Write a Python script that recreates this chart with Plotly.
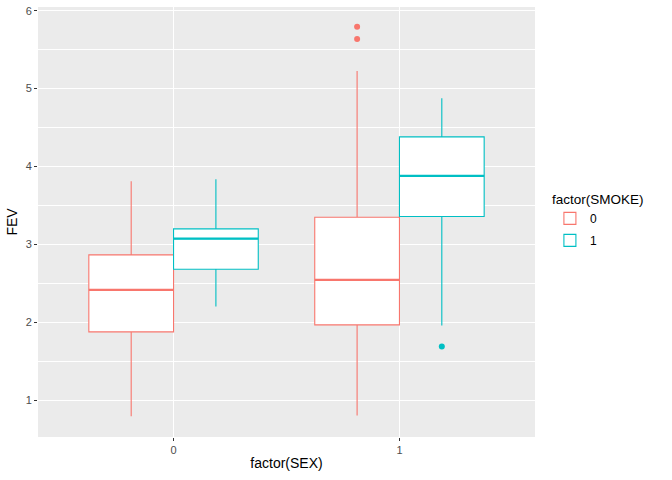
import plotly.graph_objects as go

# ---- data ----
sex_levels = ["0", "1"]
smoke_levels = ["0", "1"]

smoke0_lower = [0.79, 0.80]
smoke0_q1 = [1.875, 1.965]
smoke0_median = [2.415, 2.543]
smoke0_q3 = [2.864, 3.348]
smoke0_upper = [3.81, 5.226]
smoke0_out_sex = ["1", "1"]
smoke0_out_val = [5.795, 5.637]

smoke1_lower = [2.20, 1.956]
smoke1_q1 = [2.68, 3.356]
smoke1_median = [3.073, 3.878]
smoke1_q3 = [3.198, 4.379]
smoke1_upper = [3.835, 4.875]
smoke1_out_sex = ["1"]
smoke1_out_val = [1.687]

colors = ["#F8766D", "#00BFC4"]
dodge = 0.75
half = dodge / 2
offsets = [-half / 2, half / 2]

groups = [
    dict(lower=smoke0_lower, q1=smoke0_q1, med=smoke0_median, q3=smoke0_q3,
         upper=smoke0_upper, osex=smoke0_out_sex, oval=smoke0_out_val),
    dict(lower=smoke1_lower, q1=smoke1_q1, med=smoke1_median, q3=smoke1_q3,
         upper=smoke1_upper, osex=smoke1_out_sex, oval=smoke1_out_val),
]

sex_pos = {s: i for i, s in enumerate(sex_levels)}

fig = go.Figure()
for gi, (lvl, g) in enumerate(zip(smoke_levels, groups)):
    xs = [sex_pos[s] + offsets[gi] for s in sex_levels]
    fig.add_trace(go.Box(
        x=xs, q1=g["q1"], median=g["med"], q3=g["q3"],
        lowerfence=g["lower"], upperfence=g["upper"],
        width=half, whiskerwidth=0, boxpoints=False,
        fillcolor="white", line=dict(color=colors[gi], width=1.1),
        name=lvl, legendgroup=lvl, showlegend=True, hoverinfo="skip",
    ))
    # thicker median lines (ggplot fatten)
    mx, my = [], []
    for x, m in zip(xs, g["med"]):
        mx += [x - half / 2, x + half / 2, None]
        my += [m, m, None]
    fig.add_trace(go.Scatter(
        x=mx, y=my, mode="lines", line=dict(color=colors[gi], width=2.3),
        showlegend=False, legendgroup=lvl, hoverinfo="skip",
    ))
    # outliers
    fig.add_trace(go.Scatter(
        x=[sex_pos[s] + offsets[gi] for s in g["osex"]], y=g["oval"],
        mode="markers", marker=dict(color=colors[gi], size=6),
        showlegend=False, legendgroup=lvl, hoverinfo="skip",
    ))

fig.update_layout(
    width=672, height=480,
    margin=dict(l=38, r=137, t=7, b=43, autoexpand=False),
    paper_bgcolor="white", plot_bgcolor="#EBEBEB",
    font=dict(family="Liberation Sans, Arial, sans-serif", color="black"),
    boxmode="overlay",
    legend=dict(
        title=dict(text="factor(SMOKE)", font=dict(size=13.5, color="black")),
        font=dict(size=12, color="black"),
        x=1.03, xanchor="left", y=0.583, yanchor="top",
        bgcolor="rgba(0,0,0,0)", tracegroupgap=3, itemwidth=30,
    ),
)
fig.update_xaxes(
    range=[-0.6, 1.6], tickvals=[sex_pos[s] for s in sex_levels], ticktext=sex_levels,
    showgrid=True, gridcolor="white", gridwidth=1.1, zeroline=False,
    ticks="outside", ticklen=3, tickcolor="#333333", tickwidth=1,
    tickfont=dict(size=11, color="#4D4D4D"), automargin=False,
    title=dict(text="factor(SEX)", font=dict(size=14, color="black"), standoff=2),
    showline=False,
)
fig.update_yaxes(
    range=[0.525, 6.0475], tickvals=[1, 2, 3, 4, 5, 6],
    showgrid=True, gridcolor="white", gridwidth=1.1, zeroline=False,
    minor=dict(dtick=0.5, tick0=0.5, showgrid=True, gridcolor="white", gridwidth=0.5, ticks=""),
    ticks="outside", ticklen=3, tickcolor="#333333", tickwidth=1,
    tickfont=dict(size=11, color="#4D4D4D"), automargin=False,
    title=dict(text="FEV", font=dict(size=14, color="black"), standoff=4),
    showline=False,
)

fig.write_html("out.html", config={"displayModeBar": False},
               post_script="document.body.style.margin='0';")
